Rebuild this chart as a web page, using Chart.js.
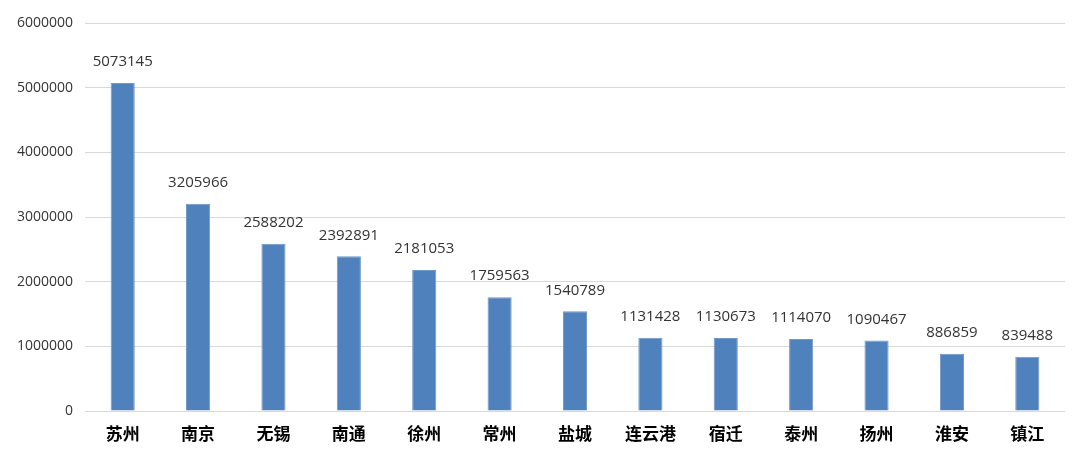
<!DOCTYPE html>
<html>
<head>
<meta charset="utf-8">
<script src="https://cdn.jsdelivr.net/npm/chart.js@4.4.1/dist/chart.umd.min.js"></script>
<style>
  html, body { margin: 0; padding: 0; background: #ffffff; }
  #wrap { width: 1080px; height: 460px; }
</style>
</head>
<body>
<div id="wrap"><canvas id="grafico"></canvas></div>
<script>
// datos
const ciudades = ["苏州", "南京", "无锡", "南通", "徐州", "常州", "盐城", "连云港", "宿迁", "泰州", "扬州", "淮安", "镇江"];
const valores = [5073145, 3205966, 2588202, 2392891, 2181053, 1759563, 1540789, 1131428, 1130673, 1114070, 1090467, 886859, 839488];
const ejeMax = 6000000;
const ejePaso = 1000000;

// etiquetas sobre las barras
const etiquetasValor = {
  id: "etiquetasValor",
  afterDatasetsDraw(chart) {
    const ctx = chart.ctx;
    const meta = chart.getDatasetMeta(0);
    ctx.save();
    ctx.font = "15px 'Open Sans'";
    ctx.fillStyle = "#333333";
    ctx.textAlign = "center";
    ctx.textBaseline = "middle";
    meta.data.forEach(function (bar, i) {
      ctx.fillText(String(valores[i]), bar.x, bar.y - 21);
    });
    ctx.restore();
  },
};

new Chart(document.getElementById("grafico"), {
  type: "bar",
  data: {
    labels: ciudades,
    datasets: [
      {
        data: valores,
        backgroundColor: "#4F81BD",
        borderColor: "#6F97C8",
        borderWidth: 1,
        categoryPercentage: 1,
        barPercentage: 0.32,
      },
    ],
  },
  options: {
    responsive: true,
    maintainAspectRatio: false,
    animation: false,
    layout: { padding: { top: 23, right: 15, left: 0, bottom: 0 } },
    plugins: {
      legend: { display: false },
      tooltip: { enabled: false },
    },
    scales: {
      x: {
        grid: { display: false },
        border: { display: false },
        ticks: {
          color: "#000000",
          font: { family: "'Noto Sans CJK SC'", size: 17, weight: "bold" },
          padding: 4,
        },
        afterFit(scale) {
          scale.height = 49;
        },
      },
      y: {
        min: 0,
        max: ejeMax,
        grid: { color: "#d9d9d9", lineWidth: 1, drawTicks: false },
        border: { display: false },
        ticks: {
          stepSize: ejePaso,
          color: "#333333",
          font: { family: "'Open Sans'", size: 14 },
          padding: 12,
          callback: function (valor) {
            return String(valor);
          },
        },
        afterFit(scale) {
          scale.width = 85;
        },
      },
    },
  },
  plugins: [etiquetasValor],
});
</script>
</body>
</html>
